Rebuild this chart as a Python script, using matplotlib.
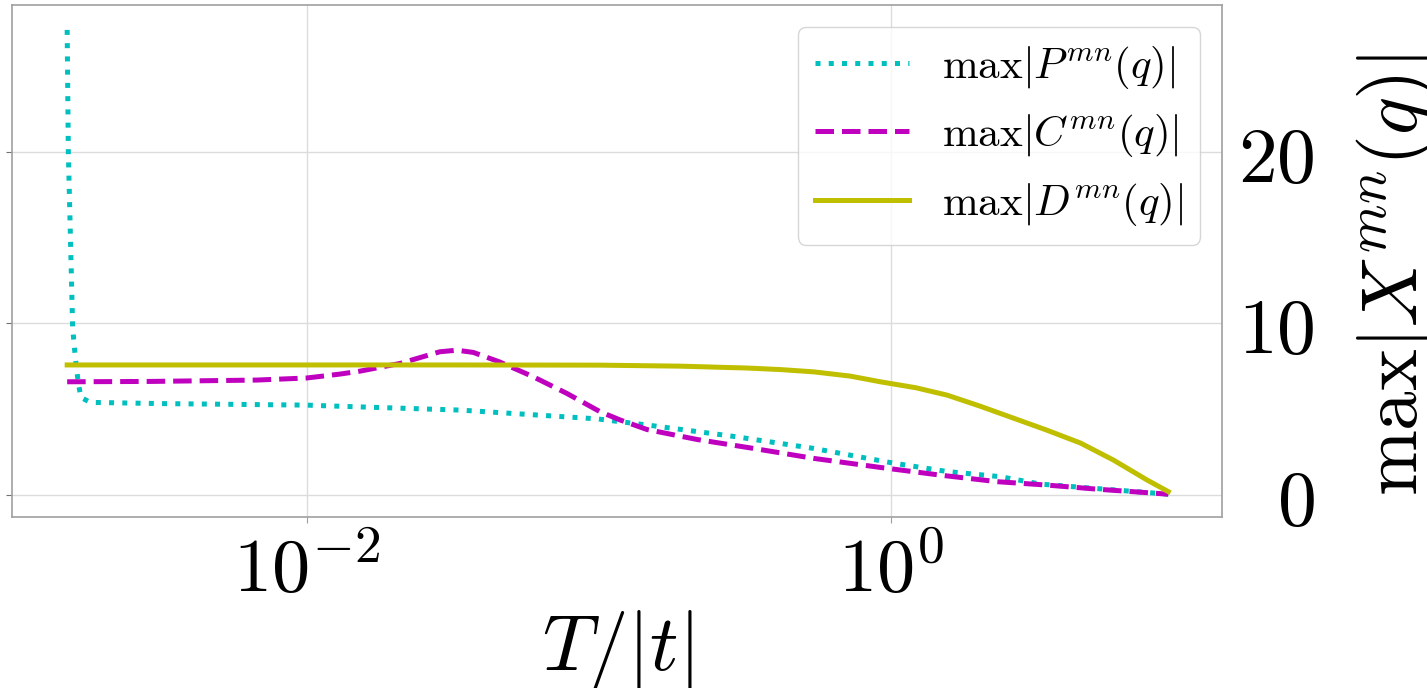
import matplotlib
matplotlib.use("Agg")
import matplotlib.pyplot as plt
from matplotlib.ticker import FixedLocator, FixedFormatter, NullLocator

plt.rcParams["mathtext.fontset"] = "cm"
plt.rcParams["font.family"] = ["DejaVu Serif"]

# ---- data ---------------------------------------------------------------
p_x = [1.514e-3, 1.528e-3, 1.581e-3, 1.614e-3, 1.633e-3, 1.656e-3, 1.687e-3,
       1.816e-3, 3.16e-3, 0.01, 0.0127, 0.0336, 0.0986, 0.150, 0.289, 0.543,
       1.021, 1.560, 2.371, 3.251, 8.91]
p_y = [27.1, 20.0, 9.73, 8.05, 7.24, 6.46, 5.69,
       5.40, 5.33, 5.24, 5.18, 4.95, 4.44, 4.06, 3.42, 2.72,
       1.86, 1.37, 1.07, 0.64, 0.05]

c_x = [1.514e-3, 2.92e-3, 6.75e-3, 0.01, 0.01303, 0.01524, 0.0209, 0.0286,
       0.0327, 0.0372, 0.0457, 0.0597, 0.0778, 0.1012, 0.1186, 0.1462, 0.2168,
       0.338, 0.543, 0.920, 1.479, 2.312, 3.428, 5.21, 7.53, 8.91]
c_y = [6.60, 6.62, 6.70, 6.82, 7.05, 7.22, 7.67, 8.35,
       8.44, 8.31, 7.76, 6.89, 5.92, 4.85, 4.37, 3.82, 3.24,
       2.72, 2.14, 1.61, 1.16, 0.78, 0.58, 0.33, 0.14, 0.05]

d_x = [1.514e-3, 0.01, 0.0316, 0.1, 0.19, 0.323, 0.419, 0.543, 0.726, 0.920,
       1.22, 1.56, 2.02, 2.63, 3.41, 4.46, 5.78, 7.55, 8.91]
d_y = [7.58, 7.58, 7.58, 7.57, 7.51, 7.40, 7.31, 7.18, 6.93, 6.60,
       6.25, 5.82, 5.18, 4.48, 3.79, 3.03, 2.04, 0.87, 0.20]

x_ticks = [1e-2, 1e0]
x_tick_labels = [r"$10^{-2}$", r"$10^{0}$"]
y_ticks = [0, 10, 20]
y_tick_labels = [r"$0$", r"$10$", r"$20$"]

labels = [r"$\max|P^{mn}(q)|$", r"$\max|C^{mn}(q)|$", r"$\max|D^{mn}(q)|$"]

# ---- plot -----------------------------------------------------------------
fig = plt.figure(figsize=(14.27, 6.88), dpi=100)
ax = fig.add_axes([0.0084, 0.2485, 0.8479, 0.7442])

lw = 3.6
ax.plot(p_x, p_y, ":", color="c", lw=lw, label=labels[0])
ax.plot(c_x, c_y, "--", color="m", lw=lw, label=labels[1])
ax.plot(d_x, d_y, "-", color="y", lw=lw, label=labels[2])

ax.set_xscale("log")
ax.set_xlim(9.8e-4, 13.6)
ax.set_ylim(-1.28, 28.55)

ax.xaxis.set_major_locator(FixedLocator(x_ticks))
ax.xaxis.set_major_formatter(FixedFormatter(x_tick_labels))
ax.xaxis.set_minor_locator(NullLocator())
ax.yaxis.set_major_locator(FixedLocator(y_ticks))
ax.yaxis.set_major_formatter(FixedFormatter(y_tick_labels))

ax.grid(True, color="#dcdcdc", lw=1.0)
for s in ax.spines.values():
    s.set_color("#a0a0a0")
    s.set_linewidth(1.2)

ax.tick_params(axis="x", labelsize=55, color="#a0a0a0", length=4, pad=8)
ax.tick_params(axis="y", left=True, right=False, labelleft=False,
               labelright=True, labelsize=56, color="#707070", length=4,
               pad=63)
for t in ax.yaxis.get_major_ticks():
    t.label2.set_horizontalalignment("right")

ax.set_xlabel(r"$T/|t|$", fontsize=57, labelpad=0)
fig.text(0.979, 0.60, r"$\max|X^{mn}(q)|$", rotation=90, fontsize=57,
         ha="center", va="center")

ax.legend(loc="upper right", fontsize=31, handlelength=2.2,
          handletextpad=0.75)

fig.savefig("out.png", dpi=100)
